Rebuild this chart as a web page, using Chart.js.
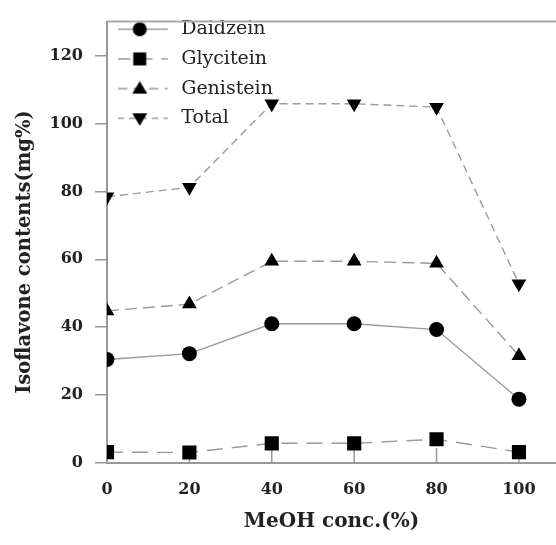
<!DOCTYPE html>
<html>
<head>
<meta charset="utf-8">
<script src="https://cdn.jsdelivr.net/npm/chart.js@4.4.0/dist/chart.umd.min.js"></script>
<style>
html, body { margin: 0; padding: 0; background: #fff; }
</style>
</head>
<body>
<canvas id="myChart" width="556" height="545"></canvas>
<script>
const conc = [0, 20, 40, 60, 80, 100];
const daidzein = [30.5, 32.2, 41.0, 41.0, 39.3, 18.8];
const glycitein = [3.2, 3.1, 5.8, 5.8, 7.0, 3.2];
const genistein = [44.8, 46.8, 59.4, 59.4, 58.8, 31.6];
const total = [78.4, 81.2, 105.8, 105.8, 104.8, 52.8];
const xTicks = [0, 20, 40, 60, 80, 100];
const yTicks = [0, 20, 40, 60, 80, 100, 120];

const lineGray = '#9a9a9a';
const axisGray = '#999';
const serif = "'DejaVu Serif', 'Liberation Serif', serif";

const series = [
    { label: 'Daidzein',  data: daidzein,  style: 'circle',   radius: 7.5, rotation: 0,   dash: [] },
    { label: 'Glycitein', data: glycitein, style: 'rect',     radius: 10,  rotation: 0,   dash: [16, 9] },
    { label: 'Genistein', data: genistein, style: 'triangle', radius: 8.5, rotation: 0,   dash: [12, 6] },
    { label: 'Total',     data: total,     style: 'triangle', radius: 8.5, rotation: 180, dash: [8, 5] }
];

// small picture for each legend entry: line sample with the marker on it
function legendIcon(s) {
    const c = document.createElement('canvas');
    c.width = 54; c.height = 20;
    const g = c.getContext('2d');
    g.strokeStyle = lineGray;
    g.lineWidth = 1.3;
    g.setLineDash(s.dash.length ? [s.dash[0] * 0.8, s.dash[1]] : []);
    g.beginPath(); g.moveTo(0, 10); g.lineTo(50, 10); g.stroke();
    g.setLineDash([]);
    g.fillStyle = '#000';
    const x = 22, y = 10;
    g.beginPath();
    if (s.style === 'circle') {
        g.arc(x, y, 7, 0, Math.PI * 2);
    } else if (s.style === 'rect') {
        g.rect(x - 6.5, y - 6.5, 13, 13);
    } else if (s.rotation === 180) {
        g.moveTo(x - 7.5, y - 5); g.lineTo(x + 7.5, y - 5); g.lineTo(x, y + 7.5);
    } else {
        g.moveTo(x - 7.5, y + 5); g.lineTo(x + 7.5, y + 5); g.lineTo(x, y - 7.5);
    }
    g.closePath(); g.fill();
    return c;
}

const icons = series.map(legendIcon);

const datasets = series.map(function(s) {
    return {
        label: s.label,
        data: s.data.map(function(v, i) { return { x: conc[i], y: v }; }),
        borderColor: lineGray,
        borderWidth: 1.4,
        borderDash: s.dash,
        pointStyle: s.style,
        pointRadius: s.radius,
        pointRotation: s.rotation,
        pointBackgroundColor: '#000',
        pointBorderColor: '#000',
        pointBorderWidth: 0,
        tension: 0,
        fill: false
    };
});

// inward x ticks, top frame line and the rotated y title
const extras = {
    id: 'extras',
    beforeDatasetsDraw(chart) {
        const { ctx, chartArea, scales } = chart;
        ctx.save();
        ctx.strokeStyle = axisGray;
        ctx.lineWidth = 1.5;
        xTicks.forEach(function(v) {
            const px = scales.x.getPixelForValue(v);
            ctx.beginPath();
            ctx.moveTo(px, chartArea.bottom);
            ctx.lineTo(px, chartArea.bottom - 15);
            ctx.stroke();
        });
        ctx.strokeStyle = '#aaa';
        ctx.lineWidth = 2;
        ctx.beginPath();
        ctx.moveTo(chartArea.left, chartArea.top);
        ctx.lineTo(chartArea.right, chartArea.top);
        ctx.stroke();
        ctx.restore();
    },
    afterDraw(chart) {
        const ctx = chart.ctx;
        ctx.save();
        ctx.translate(25, 252);
        ctx.rotate(-Math.PI / 2);
        ctx.font = 'bold 19.5px ' + serif;
        ctx.fillStyle = '#222';
        ctx.textAlign = 'center';
        ctx.textBaseline = 'middle';
        ctx.fillText('Isoflavone contents(mg%)', 0, 0);
        ctx.restore();
    }
};

const config = {
    type: 'line',
    data: { datasets: datasets },
    options: {
        responsive: false,
        animation: false,
        layout: { autoPadding: false, padding: { top: 10, right: 0, bottom: 0, left: 0 } },
        scales: {
            x: {
                type: 'linear',
                min: 0,
                max: 109,
                afterBuildTicks: function(scale) { scale.ticks = xTicks.map(function(v) { return { value: v }; }); },
                afterFit: function(scale) { scale.height = 82; },
                grid: { display: true, drawOnChartArea: false, drawTicks: false },
                border: { color: axisGray, width: 2 },
                ticks: { padding: 17, color: '#222', font: { family: serif, size: 16, weight: 'bold' } },
                title: {
                    display: true,
                    text: 'MeOH conc.(%)',
                    color: '#222',
                    font: { family: serif, size: 20, weight: 'bold' },
                    padding: { top: 0, bottom: 11 }
                }
            },
            y: {
                min: 0,
                max: 130,
                afterBuildTicks: function(scale) { scale.ticks = yTicks.map(function(v) { return { value: v }; }); },
                afterFit: function(scale) { scale.width = 107; },
                grid: { drawOnChartArea: false, drawTicks: true, tickLength: 12, color: axisGray, lineWidth: 1.5 },
                border: { color: axisGray, width: 2 },
                ticks: { padding: 12, color: '#222', font: { family: serif, size: 16, weight: 'bold' } }
            }
        },
        plugins: {
            legend: {
                position: 'chartArea',
                align: 'start',
                title: { display: true, text: ' ', padding: 0, font: { size: 7.5 } },
                labels: {
                    usePointStyle: true,
                    pointStyleWidth: 54,
                    padding: 10.7,
                    color: '#222',
                    font: { family: serif, size: 19 },
                    generateLabels: function(chart) {
                        return series.map(function(s, i) {
                            return {
                                text: s.label,
                                fontColor: '#222',
                                pointStyle: icons[i],
                                fillStyle: '#000',
                                strokeStyle: '#000',
                                lineWidth: 0,
                                hidden: false,
                                datasetIndex: i
                            };
                        });
                    }
                }
            },
            tooltip: { enabled: false }
        }
    },
    plugins: [extras]
};

const myChart = new Chart(document.getElementById('myChart').getContext('2d'), config);
</script>
</body>
</html>
